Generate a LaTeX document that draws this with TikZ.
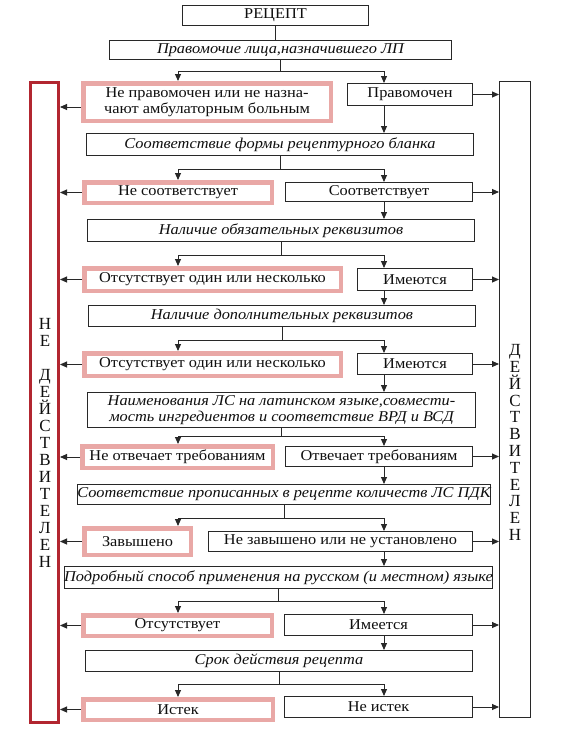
\documentclass[tikz,border=0pt]{standalone}
\usepackage{fontspec}
\setmainfont{Liberation Serif}[FakeStretch=1.09]
\newfontfamily\lettfont{Liberation Serif}
\usetikzlibrary{arrows.meta,calc}
\definecolor{pinkc}{RGB}{233,168,166}
\definecolor{redc}{RGB}{178,38,48}
\definecolor{linec}{RGB}{40,40,40}
\definecolor{txtc}{RGB}{15,15,15}
% black box: name, style, left, right, top, bottom, text
\newcommand\mybox[7]{\node[#2, minimum width={(#4-#3-0.9)*1pt}, minimum height={(#6-#5-0.9)*1pt}] (#1) at ({(#3+#4)/2},{(#5+#6)/2}) {#7};}
% pink box (outer bounds)
\newcommand\mypink[6]{\node[nbox, minimum width={(#3-#2-4.5)*1pt}, minimum height={(#5-#4-4.5)*1pt}] (#1) at ({(#2+#3)/2},{(#4+#5)/2}) {#6};}
\newcommand\mysplit[4]{%
  \draw[ln] (#1.south) -- ++(0,#4) coordinate (j#1);
  \draw[arr] (j#1) -| (#2.north -| xl);
  \draw[arr] (j#1) -| (#3.north -| xr);}
\begin{document}
\begin{tikzpicture}[x=1pt,y=-1pt,
  box/.style={draw=linec, line width=0.9pt, inner sep=0pt, align=center, text=txtc,
    font=\fontsize{15}{16.5}\selectfont},
  qbox/.style={box, font=\fontsize{15}{16.5}\selectfont\itshape},
  ybox/.style={box},
  nbox/.style={box, draw=pinkc, line width=4.5pt},
  ln/.style={draw=linec, line width=0.9pt},
  arr/.style={ln, -{Triangle[length=7pt,width=6pt]}},
  lett/.style={inner sep=0pt, align=center, text=txtc}]
\fill[white] (0,0) rectangle (576,734);
\useasboundingbox (0,0) rectangle (576,734);
\coordinate (xl) at (178,0);
\coordinate (xr) at (384,0);

% side boxes
\node[draw=redc, line width=3pt, inner sep=0pt, minimum width=28pt, minimum height=640pt] (L) at (44.5,402.5) {};
\node[draw=linec, line width=1pt, inner sep=0pt, minimum width=31pt, minimum height=636pt] (R) at (515,399.5) {};
\node[lett, font=\lettfont\fontsize{17}{17}\selectfont] (lt) at (45,443) {Н\\Е\\\mbox{}\\Д\\Е\\Й\\С\\Т\\В\\И\\Т\\Е\\Л\\Е\\Н};
\node[lett, font=\lettfont\fontsize{17}{16.8}\selectfont] (rt) at (515,442.5) {Д\\Е\\Й\\С\\Т\\В\\И\\Т\\Е\\Л\\Е\\Н};

% main column
\mybox{rec}{ybox}{182}{369}{5}{26}{РЕЦЕПТ}
\mybox{q1}{qbox}{109}{452}{40}{60}{Правомочие лица,назначившего ЛП}
\mypink{n1}{81}{333}{81}{123}{Не правомочен или не назна-\\чают амбулаторным больным}
\mybox{y1}{ybox}{347}{473}{83}{106}{Правомочен}

\mybox{q2}{qbox}{86}{474}{133}{156}{Соответствие формы рецептурного бланка}
\mypink{n2}{82}{274}{180}{205}{Не соответствует}
\mybox{y2}{ybox}{285}{473}{182}{202}{Соответствует}

\mybox{q3}{qbox}{87}{475}{219}{242}{Наличие обязательных реквизитов}
\mypink{n3}{82}{343}{266}{293}{Отсутствует один или несколько}
\mybox{y3}{ybox}{357}{473}{268}{291}{Имеются}

\mybox{q4}{qbox}{88}{476}{305}{327}{Наличие дополнительных реквизитов}
\mypink{n4}{82}{343}{351}{378}{Отсутствует один или несколько}
\mybox{y4}{ybox}{357}{473}{353}{375}{Имеются}

\mybox{q5}{qbox}{87}{476}{392}{428}{Наименования ЛС на латинском языке,совмести-\\мость ингредиентов и соответствие ВРД и ВСД}
\mypink{n5}{80}{275}{444}{470}{Не отвечает требованиям}
\mybox{y5}{ybox}{285}{473}{446}{467}{Отвечает требованиям}

\mybox{q6}{qbox}{77}{491}{484}{505}{Соответствие прописанных в рецепте количеств ЛС ПДК}
\mypink{n6}{82}{193}{526}{557}{Завышено}
\mybox{y6}{ybox}{208}{473}{531}{552}{Не завышено или не установлено}

\mybox{q7}{qbox}{66}{491}{566}{589}{Подробный способ применения на русском (и местном) языке}
\mypink{n7}{81}{274}{613}{638}{Отсутствует}
\mybox{y7}{ybox}{284}{473}{614}{636}{Имеется}

\mybox{q8}{qbox}{85}{473}{650}{672}{Срок действия рецепта}
\mypink{n8}{81}{275}{697}{722}{Истек}
\mybox{y8}{ybox}{284}{473}{696}{718}{Не истек}

% connectors
\draw[ln] (rec.south) -- (rec.south |- q1.north);
\mysplit{q1}{n1}{y1}{11}
\mysplit{q2}{n2}{y2}{13}
\mysplit{q3}{n3}{y3}{13}
\mysplit{q4}{n4}{y4}{13}
\mysplit{q5}{n5}{y5}{8}
\mysplit{q6}{n6}{y6}{13}
\mysplit{q7}{n7}{y7}{12}
\mysplit{q8}{n8}{y8}{12}

\draw[arr] (y1.south -| xr) -- (q2.north -| xr);
\draw[arr] (y2.south -| xr) -- (q3.north -| xr);
\draw[arr] (y3.south -| xr) -- (q4.north -| xr);
\draw[arr] (y4.south -| xr) -- (q5.north -| xr);
\draw[arr] (y5.south -| xr) -- (q6.north -| xr);
\draw[arr] (y6.south -| xr) -- (q7.north -| xr);
\draw[arr] (y7.south -| xr) -- (q8.north -| xr);

\foreach \k in {1,...,8} {
  \draw[arr] (y\k.east) -- (y\k.east -| R.west);
}
\draw[arr] ([yshift=-5pt]n1.west) -- ([yshift=-5pt]n1.west -| L.east);
\foreach \k in {2,...,8} {
  \draw[arr] (n\k.west) -- (n\k.west -| L.east);
}
\end{tikzpicture}
\end{document}
